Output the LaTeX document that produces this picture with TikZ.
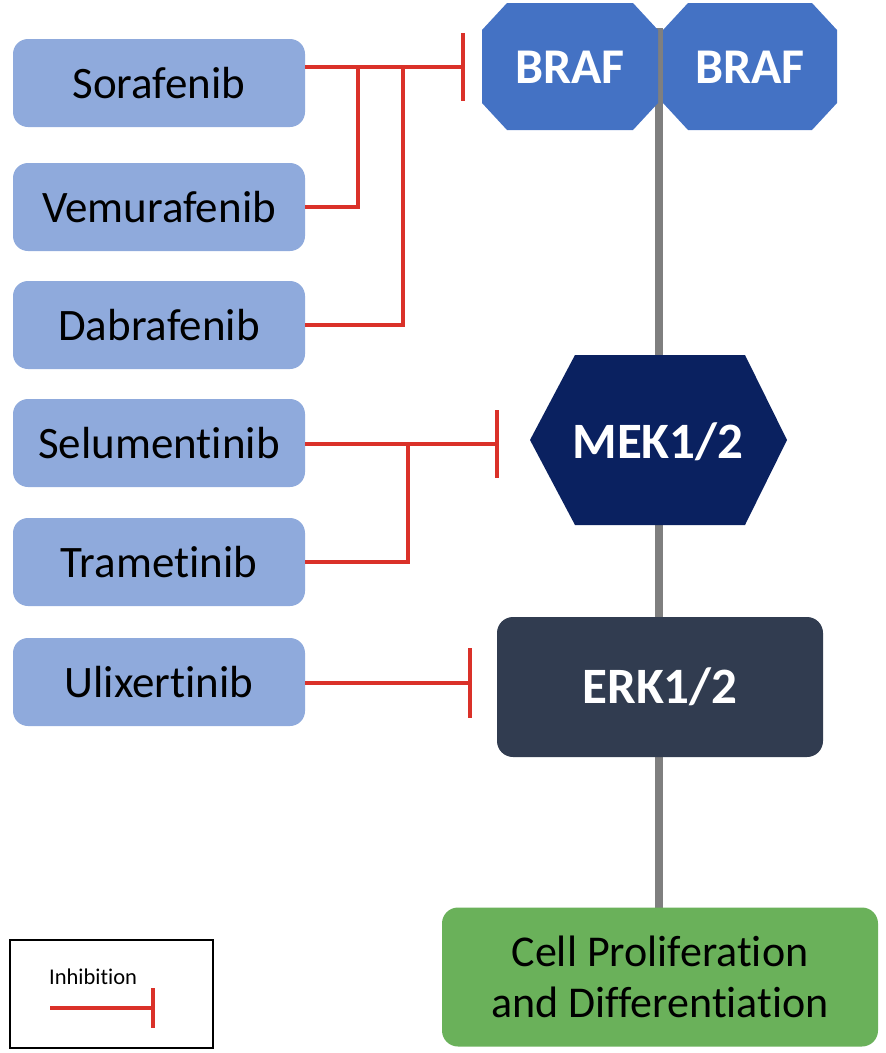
\documentclass[tikz,border=0pt]{standalone}
\usepackage{fontspec}
\setmainfont{Carlito}[Ligatures=NoCommon]
\usetikzlibrary{positioning}
\definecolor{drugc}{HTML}{8FAADC}
\definecolor{brafc}{HTML}{4472C4}
\definecolor{mekc}{HTML}{0A2160}
\definecolor{erkc}{HTML}{313C50}
\definecolor{cellc}{HTML}{6AB15A}
\definecolor{inhc}{HTML}{DA3129}
\definecolor{pathc}{HTML}{7F7F7F}
\tikzset{
  drug/.style={draw=none, fill=drugc, rounded corners=15pt, minimum width=292pt, minimum height=88pt, inner sep=0pt, font=\fontsize{45}{54}\selectfont, text=black},
  whitetxt/.style={text=white, inner sep=0pt, font=\fontsize{50}{60}\selectfont\bfseries},
  inh/.style={draw=inhc, line width=4.5pt},
  backbone/.style={draw=pathc, line width=8pt}
}
\begin{document}
\begin{tikzpicture}[x=1pt,y=-1pt]
\useasboundingbox (0,0) rectangle (886,1053);
% backbone
\coordinate (top) at (659,28);
\coordinate (bot) at (659,910);
\draw[backbone] (top) -- (bot);
% BRAF octagons
\fill[brafc] (507,3)--(633,3)--(658,30)--(658,103)--(633,130)--(507,130)--(482,103)--(482,30)--cycle;
\fill[brafc] (688,3)--(812,3)--(837,30)--(837,103)--(812,130)--(688,130)--(663,103)--(663,30)--cycle;
\node[whitetxt] (braf1) at (570,67) {BRAF};
\node[whitetxt] (braf2) at (750,67) {BRAF};
% MEK hexagon
\fill[mekc] (530,440)--(575,355)--(745,355)--(787,440)--(745,525)--(575,525)--cycle;
\node[whitetxt, font=\fontsize{51}{60}\selectfont\bfseries] (mek) at (658,442) {MEK1/2};
% ERK
\node[fill=erkc, rounded corners=16pt, minimum width=326pt, minimum height=140pt, inner sep=0pt, text=white, font=\fontsize{51}{60}\selectfont\bfseries] (erk) at (660,687) {ERK1/2};
% Cell proliferation
\node[fill=cellc, rounded corners=16pt, minimum width=436pt, minimum height=139pt, inner sep=0pt, text=black, align=center, font=\fontsize{44}{51}\selectfont] (cell) at (660,977) {Cell Proliferation\\and Differentiation};
% drugs
\node[drug] (sor) at (159,83) {Sorafenib};
\node[drug] (vem) at (159,207) {Vemurafenib};
\node[drug] (dab) at (159,325) {Dabrafenib};
\node[drug] (sel) at (159,443) {Selumentinib};
\node[drug] (tra) at (159,562) {Trametinib};
\node[drug] (uli) at (159,682) {Ulixertinib};
% inhibition connectors to BRAF
\coordinate (t1) at (463,67);
\coordinate (j1) at (358,67);
\coordinate (j2) at (403,67);
\draw[inh] (t1 -| sor.east) -- (t1);
\draw[inh] (t1) ++(0,-34) -- ++(0,68);
\draw[inh] (vem.east) -| (j1);
\draw[inh] (dab.east) -| (j2);
% to MEK
\coordinate (t2) at (497,444);
\coordinate (j3) at (408,444);
\draw[inh] (t2 -| sel.east) -- (t2);
\draw[inh] (t2) ++(0,-34) -- ++(0,68);
\draw[inh] (tra.east) -| (j3);
% to ERK
\coordinate (t3) at (470,683);
\draw[inh] (t3 -| uli.east) -- (t3);
\draw[inh] (t3) ++(0,-35) -- ++(0,70);
% legend
\node[draw=black, line width=2pt, minimum width=203pt, minimum height=108pt, inner sep=0pt] (leg) at (111.5,994) {};
\node[inner sep=0pt, font=\fontsize{22.5}{27}\selectfont, anchor=base west] (legtxt) at (49,984) {Inhibition};
\coordinate (l1) at (50,1008);
\coordinate (l2) at (153,1008);
\draw[inh] (l1) -- (l2);
\draw[inh] (l2) ++(0,-20) -- ++(0,40);
\end{tikzpicture}
\end{document}
